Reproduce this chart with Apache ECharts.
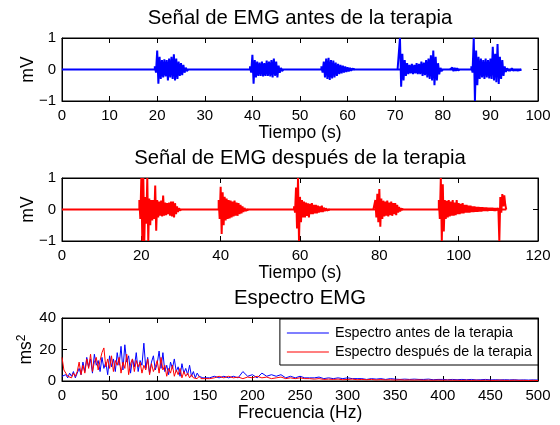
<!DOCTYPE html>
<html><head><meta charset="utf-8">
<script src="https://cdn.jsdelivr.net/npm/echarts@6/dist/echarts.min.js"></script>
<style>html,body{margin:0;padding:0;background:#fff}#c{width:560px;height:425px}</style>
</head><body><div id="c"></div>
<script>
// ---------- DATA ----------
// EMG before therapy: burst start times (s), upper / lower envelope every 0.5 s (mV)
const antesEnd = 96.5;
const antesStarts = [19.5, 39.5, 54.5, 70.5, 81.5, 86.0];
const antesHi = [
  [0.1,0.6,0.4,0.3,0.32,0.3,0.35,0.4,0.48,0.35,0.25,0.2,0.15,0.06],
  [0.1,0.47,0.3,0.25,0.22,0.25,0.2,0.28,0.25,0.3,0.35,0.25,0.12,0.05],
  [0.1,0.25,0.35,0.37,0.3,0.28,0.22,0.18,0.15,0.12,0.1,0.07,0.05,0.03],
  [0.05,1.0,0.5,0.3,0.2,0.15,0.18,0.15,0.2,0.18,0.25,0.22,0.3,0.35,0.45,0.6,0.4,0.2,0.05],
  [0.05,0.06,0.05,0.04],
  [0.1,1.0,0.6,0.4,0.35,0.3,0.35,0.3,0.35,0.72,0.5,0.81,0.4,0.3,0.1,0.04,0.03,0.04,0.03,0.03,0.02]
];
const antesLo = [
  [-0.1,-0.45,-0.3,-0.25,-0.22,-0.35,-0.25,-0.3,-0.35,-0.3,-0.2,-0.18,-0.1,-0.05],
  [-0.1,-0.45,-0.25,-0.2,-0.2,-0.22,-0.2,-0.2,-0.22,-0.25,-0.2,-0.25,-0.1,-0.05],
  [-0.1,-0.25,-0.3,-0.33,-0.28,-0.25,-0.2,-0.15,-0.12,-0.1,-0.08,-0.06,-0.04,-0.03],
  [-0.05,-0.55,-0.35,-0.2,-0.15,-0.12,-0.15,-0.12,-0.15,-0.15,-0.2,-0.18,-0.25,-0.3,-0.35,-0.5,-0.35,-0.15,-0.05],
  [-0.04,-0.05,-0.04,-0.03],
  [-0.1,-1.0,-0.5,-0.3,-0.25,-0.3,-0.25,-0.28,-0.3,-0.35,-0.4,-0.46,-0.3,-0.2,-0.08,-0.03,-0.03,-0.03,-0.02,-0.03,-0.02]
];
// EMG after therapy
const despuesEnd = 112;
const despuesStarts = [19.5, 39.5, 58.5, 78.5, 95.0];
const despuesHi = [
  [0.3,1.0,1.0,0.4,1.0,0.35,0.3,0.3,0.76,0.3,0.25,0.28,0.44,0.22,0.2,0.22,0.25,0.25,0.2,0.1,0.04],
  [0.3,0.72,0.55,0.4,0.35,0.3,0.28,0.25,0.28,0.22,0.2,0.15,0.1,0.05,0.02],
  [0.1,0.7,1.0,0.4,0.3,0.25,0.22,0.2,0.18,0.2,0.15,0.15,0.12,0.1,0.12,0.06,0.04,0.02],
  [0.05,0.3,0.5,0.65,0.35,0.28,0.25,0.28,0.22,0.25,0.2,0.2,0.15,0.08,0.03],
  [0.3,1.0,0.8,0.3,0.28,0.3,0.25,0.3,0.22,0.3,0.2,0.18,0.2,0.15,0.15,0.12,0.12,0.1,0.1,0.08,0.08,0.07,0.07,0.06,0.06,0.05,0.05,0.05,0.04,0.04,0.05,0.4,0.49,0.45]
];
const despuesLo = [
  [-0.3,-1.0,-1.0,-0.45,-1.0,-0.5,-0.35,-0.3,-0.67,-0.25,-0.2,-0.22,-0.2,-0.18,-0.15,-0.2,-0.22,-0.25,-0.15,-0.08,-0.03],
  [-0.3,-0.78,-0.5,-0.35,-0.3,-0.28,-0.25,-0.22,-0.2,-0.2,-0.15,-0.12,-0.08,-0.04,-0.02],
  [-0.1,-0.6,-1.0,-0.4,-0.25,-0.25,-0.2,-0.25,-0.15,-0.15,-0.12,-0.12,-0.1,-0.08,-0.08,-0.05,-0.03,-0.02],
  [-0.05,-0.25,-0.4,-0.55,-0.3,-0.22,-0.2,-0.22,-0.18,-0.2,-0.15,-0.18,-0.1,-0.06,-0.02],
  [-0.3,-1.0,-0.7,-0.3,-0.25,-0.22,-0.2,-0.2,-0.18,-0.15,-0.15,-0.12,-0.12,-0.1,-0.1,-0.1,-0.08,-0.08,-0.07,-0.07,-0.06,-0.06,-0.05,-0.05,-0.05,-0.04,-0.04,-0.04,-0.04,-0.03,-1.0,-0.1,0.1,0.15]
];
const envStep = 0.5;

// Spectra: 0–150 Hz every 2 Hz, then 155–500 Hz every 5 Hz (ms^2)
const specLowStart = 0, specLowStep = 2;
const specHighStart = 155, specHighStep = 5;
const specAntesLow = [3,2,4,2,5,3,6,2,5,8,4,12,6,15,9,14,5,17,10,13,6,15,8,12,4,16,9,14,6,18,10,22,7,23,12,16,5,14,9,18,6,13,10,24,8,15,5,12,16,7,11,19,8,18,6,10,4,12,8,14,6,9,3,11,5,8,4,10,3,6,2,5,3,4,2,3];
const specAntesHigh = [2,3,2,3,2,3,2,6,3,4,2,5,3,4,3,4,2,3,2,3,2,2,2,2.5,1.5,2,1.5,2,1.5,2,1.5,1.5,1.5,1,1.5,1.2,1.5,1,1.5,1.2,1,1.2,1,1.2,1,1,1.2,0.8,1,1,0.8,1,0.8,1,0.8,1,0.7,0.8,1,0.7,0.8,0.7,0.8,0.7,0.8,0.6,0.7,0.6,0.7,0.6];
const specDespuesLow = [15,7,5,3,4,2,5,3,6,12,4,10,5,14,8,17,6,12,15,7,13,18,21,9,14,8,16,6,13,10,15,5,12,8,17,4,11,14,6,13,9,12,5,10,7,14,4,11,6,9,13,5,15,7,10,3,8,5,10,3,7,4,8,2,6,3,5,2,4,2,3,1.5,3,1.5,2,1.5];
const specDespuesHigh = [1.5,2,3,2,3,2,2.5,1.5,2.5,2,3,2,2.5,1.5,2,2.5,1.5,2,1.5,2,1.5,1.5,1.2,1.5,1,1.2,1,1.2,0.8,1,1.2,0.8,1,0.8,1,0.7,0.9,0.7,0.8,0.6,0.8,0.6,0.7,0.6,0.7,0.5,0.6,0.5,0.6,0.5,0.6,0.5,0.5,0.4,0.5,0.4,0.5,0.4,0.5,0.4,0.4,0.5,0.4,0.4,0.5,0.4,0.4,0.3,0.4,0.3];

const titles = ['Señal de EMG antes de la terapia', 'Señal de EMG después de la terapia', 'Espectro EMG'];
const legendNames = ['Espectro antes de la terapia', 'Espectro después de la terapia'];

// ---------- BUILD ----------
function burstData(s, hi, lo) {
  const pts = [[s, 0]];
  for (let j = 0; j < hi.length; j++) {
    pts.push([s + j * envStep, hi[j]]);
    pts.push([s + j * envStep + envStep / 2, lo[j]]);
  }
  pts.push([s + hi.length * envStep, 0]);
  return pts;
}
function buildSpec(low, high) {
  const pts = [];
  low.forEach((v, i) => pts.push([specLowStart + i * specLowStep, v]));
  high.forEach((v, i) => pts.push([specHighStart + i * specHighStep, v]));
  return pts;
}
function signalSeries(xi, starts, his, los, end, color) {
  const out = [{ type: 'line', xAxisIndex: xi, yAxisIndex: xi, data: [[0, 0], [end, 0]], symbol: 'none',
    lineStyle: { color, width: 2 }, silent: true }];
  starts.forEach((s, b) => out.push({ type: 'line', xAxisIndex: xi, yAxisIndex: xi, data: burstData(s, his[b], los[b]),
    symbol: 'none', lineStyle: { color, width: 2 }, silent: true }));
  return out;
}

const FONT = '"Liberation Sans", Arial, Helvetica, sans-serif';
const minusFmt = v => String(v).replace('-', '\u2212');
const gridTops = [38, 178, 318];
const gridH = 63;
const TICK_FS = 15, NAME_FS = 17.5;

function xAxes(gi, min, max, interval, name) {
  const base = {
    gridIndex: gi, type: 'value', min, max, interval,
    axisLine: { show: true, onZero: false, lineStyle: { color: '#000', width: 1 } },
    axisTick: { show: true, inside: true, length: 5, lineStyle: { color: '#000' } },
    splitLine: { show: false }
  };
  return [
    Object.assign({}, base, {
      position: 'bottom',
      axisLabel: { margin: 7, color: '#000', fontSize: TICK_FS, fontFamily: FONT },
      name, nameLocation: 'middle', nameGap: 23,
      nameTextStyle: { fontSize: NAME_FS, color: '#000', fontFamily: FONT }
    }),
    Object.assign({}, base, { position: 'top', axisLabel: { show: false } })
  ];
}
function yAxes(gi, min, max, interval, name, rich) {
  const base = {
    gridIndex: gi, type: 'value', min, max, interval,
    axisLine: { show: true, onZero: false, lineStyle: { color: '#000', width: 1 } },
    axisTick: { show: true, inside: true, length: 5, lineStyle: { color: '#000' } },
    splitLine: { show: false }
  };
  const left = Object.assign({}, base, {
    position: 'left',
    axisLabel: { margin: 6, color: '#000', fontSize: TICK_FS, fontFamily: FONT, formatter: minusFmt },
    name, nameLocation: 'middle', nameGap: 25, nameRotate: 90, nameMoveOverlap: false,
    nameTextStyle: { fontSize: NAME_FS, color: '#000', fontFamily: FONT }
  });
  if (rich) left.nameTextStyle.rich = rich;
  return [left, Object.assign({}, base, { position: 'right', axisLabel: { show: false } })];
}

const chart = echarts.init(document.getElementById('c'), null, { renderer: 'canvas' });
const option = {
  animation: false,
  backgroundColor: '#fff',
  title: titles.map((t, i) => ({
    text: t, left: 300, textAlign: 'center', top: gridTops[i] - 30, padding: 0,
    textStyle: { fontSize: 20.3, fontWeight: 'normal', color: '#000', fontFamily: FONT }
  })),
  grid: gridTops.map(t => ({ left: 62, top: t, width: 476, height: gridH, show: true, borderColor: '#000', borderWidth: 1, backgroundColor: '#fff' })),
  legend: {
    data: legendNames, orient: 'vertical', right: 22, top: 319,
    backgroundColor: '#fff', borderColor: '#000', borderWidth: 1,
    icon: 'rect', itemHeight: 1.2, itemWidth: 42, itemGap: 5,
    padding: [7, 6, 6, 7],
    textStyle: { fontSize: 14.3, color: '#000', fontFamily: FONT, padding: [0, 0, 0, 1] }
  },
  xAxis: [].concat(
    xAxes(0, 0, 100, 10, 'Tiempo (s)'),
    xAxes(1, 0, 120, 20, 'Tiempo (s)'),
    xAxes(2, 0, 500, 50, 'Frecuencia (Hz)')
  ),
  yAxis: [].concat(
    yAxes(0, -1, 1, 1, 'mV'),
    yAxes(1, -1, 1, 1, 'mV'),
    yAxes(2, 0, 40, 20, 'ms{sup|2}', { sup: { fontSize: 12, verticalAlign: 'bottom', padding: [0, 0, 9, 0], fontFamily: FONT, color: '#000' } })
  ),
  series: [].concat(
    signalSeries(0, antesStarts, antesHi, antesLo, antesEnd, '#0000ff'),
    signalSeries(2, despuesStarts, despuesHi, despuesLo, despuesEnd, '#ff0000'),
    [
      { name: legendNames[0], type: 'line', xAxisIndex: 4, yAxisIndex: 4, data: buildSpec(specAntesLow, specAntesHigh), symbol: 'none', lineStyle: { color: '#0000ff', width: 1 }, itemStyle: { color: '#0000ff' } },
      { name: legendNames[1], type: 'line', xAxisIndex: 4, yAxisIndex: 4, data: buildSpec(specDespuesLow, specDespuesHigh), symbol: 'none', lineStyle: { color: '#ff0000', width: 1 }, itemStyle: { color: '#ff0000' } }
    ]
  )
};
chart.setOption(option);
</script>
</body></html>
